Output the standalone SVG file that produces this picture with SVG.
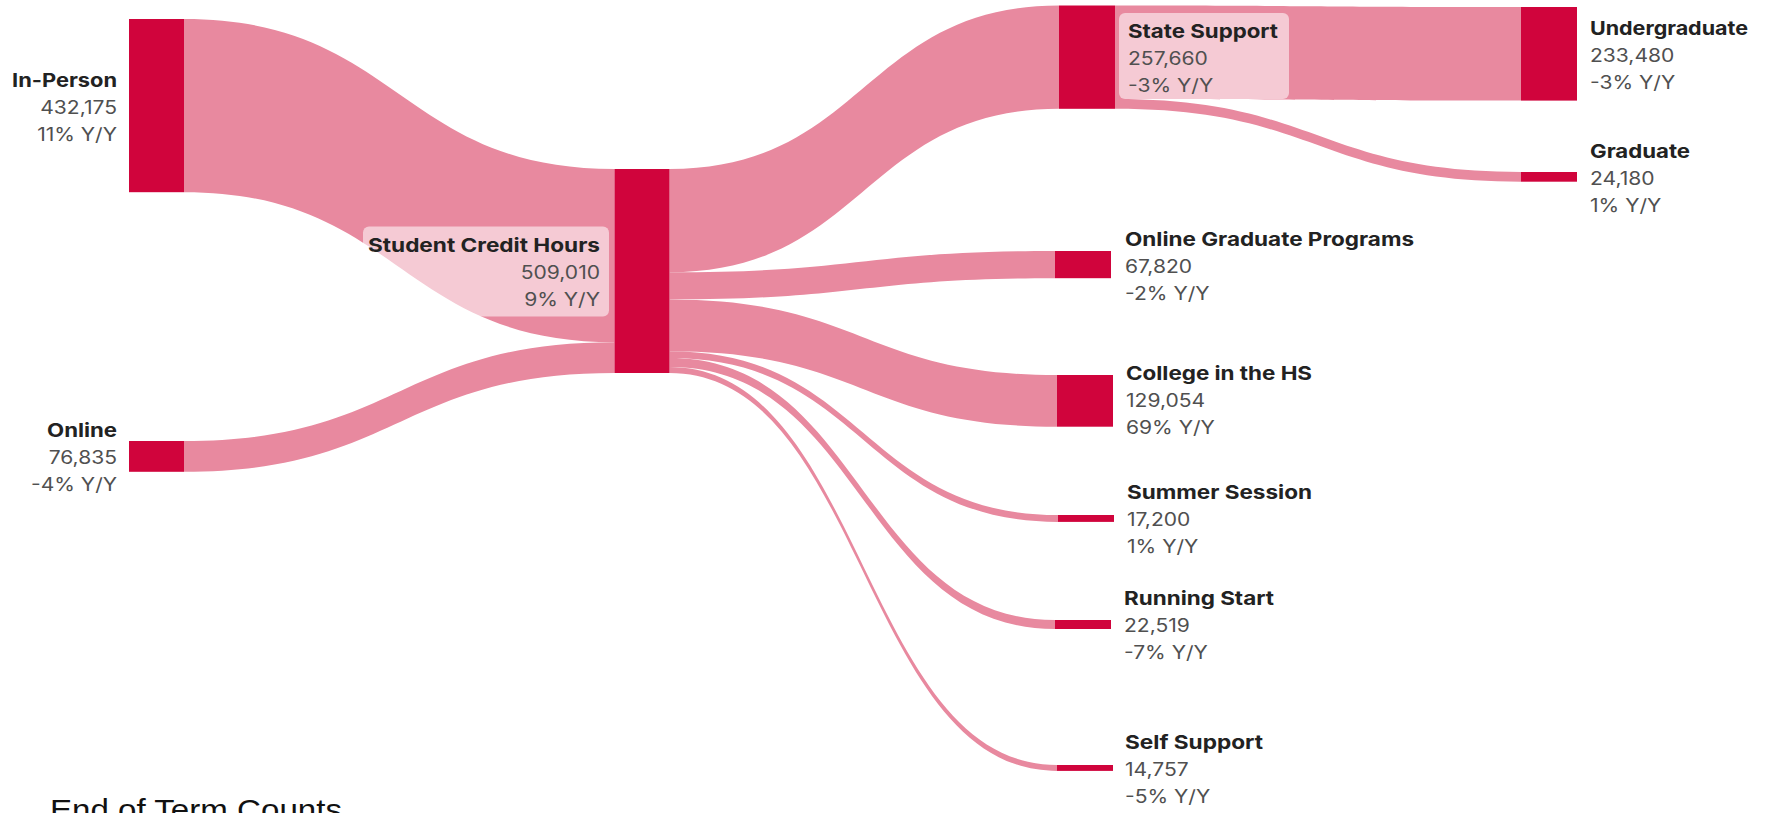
<svg xmlns="http://www.w3.org/2000/svg" width="1773" height="813" viewBox="0 0 1773 813">
<style>
.node{fill:#D0043C}
.link{fill:#E8899F}
.t{font-family:Inter,"Noto Sans",sans-serif;font-size:19px;font-weight:700;fill:#222}
.v{font-family:Inter,"Noto Sans",sans-serif;font-size:18px;font-weight:400;fill:#505050}
.box{fill:#fff;fill-opacity:0.55}
.cap{font-family:"Liberation Sans",Arial,sans-serif;font-size:30px;fill:#111}
</style>
<rect width="1773" height="813" fill="#fff"/>
<g id="links">
<path class="link" d="M184,19 C399.25,19 399.25,169 614.5,169 L614.5,342.2 C399.25,342.2 399.25,192.2 184,192.2 Z"/>
<path class="link" d="M184,441 C399.25,441 399.25,342.2 614.5,342.2 L614.5,373 C399.25,373 399.25,471.8 184,471.8 Z"/>
<path class="link" d="M669.5,169 C864.25,169 864.25,5.5 1059,5.5 L1059,108.8 C864.25,108.8 864.25,272.3 669.5,272.3 Z"/>
<path class="link" d="M669.5,272.3 C862.25,272.3 862.25,251 1055,251 L1055,278.2 C862.25,278.2 862.25,299.5 669.5,299.5 Z"/>
<path class="link" d="M669.5,299.5 C863.25,299.5 863.25,375 1057,375 L1057,426.7 C863.25,426.7 863.25,351.2 669.5,351.2 Z"/>
<path class="link" d="M669.5,351.2 C863.75,351.2 863.75,515 1058,515 L1058,521.9 C863.75,521.9 863.75,358.1 669.5,358.1 Z"/>
<path class="link" d="M669.5,358.1 C862.25,358.1 862.25,620 1055,620 L1055,629 C862.25,629 862.25,367.1 669.5,367.1 Z"/>
<path class="link" d="M669.5,367.1 C863.25,367.1 863.25,765 1057,765 L1057,770.9 C863.25,770.9 863.25,373 669.5,373 Z"/>
<path class="link" d="M1115,5.5 C1318,5.5 1318,7 1521,7 L1521,100.6 C1318,100.6 1318,99.1 1115,99.1 Z"/>
<path class="link" d="M1115,99.1 C1318,99.1 1318,172 1521,172 L1521,181.7 C1318,181.7 1318,108.8 1115,108.8 Z"/>
</g>
<g id="node-in-person">
<rect class="node" x="129" y="19" width="55" height="173.2"/>
<g transform="translate(117,0) scale(1.17,1)" text-anchor="end">
<text class="t" x="0" y="86.6" textLength="89.7" lengthAdjust="spacingAndGlyphs">In-Person</text>
<text class="v" x="0" y="113.6">432,175</text>
<text class="v" x="0" y="140.6">11% Y/Y</text>
</g>
</g>
<g id="node-online">
<rect class="node" x="129" y="441" width="55" height="30.8"/>
<g transform="translate(117,0) scale(1.17,1)" text-anchor="end">
<text class="t" x="0" y="437.4" textLength="59.8" lengthAdjust="spacingAndGlyphs">Online</text>
<text class="v" x="0" y="464.4">76,835</text>
<text class="v" x="0" y="491.4">-4% Y/Y</text>
</g>
</g>
<g id="node-student-credit-hours">
<rect class="node" x="614.5" y="169" width="55" height="204"/>
<rect class="box" x="363" y="226.5" width="246" height="90" rx="6"/>
<g transform="translate(600,0) scale(1.17,1)" text-anchor="end">
<text class="t" x="0" y="252" textLength="198.3" lengthAdjust="spacingAndGlyphs">Student Credit Hours</text>
<text class="v" x="0" y="279">509,010</text>
<text class="v" x="0" y="306">9% Y/Y</text>
</g>
</g>
<g id="node-state-support">
<rect class="node" x="1059" y="5.5" width="56" height="103.3"/>
<rect class="box" x="1119" y="13" width="170" height="86" rx="6"/>
<g transform="translate(1128,0) scale(1.17,1)">
<text class="t" x="0" y="38" textLength="128.2" lengthAdjust="spacingAndGlyphs">State Support</text>
<text class="v" x="0" y="65">257,660</text>
<text class="v" x="0" y="92">-3% Y/Y</text>
</g>
</g>
<g id="node-online-graduate-programs">
<rect class="node" x="1055" y="251" width="56" height="27.2"/>
<g transform="translate(1125,0) scale(1.17,1)">
<text class="t" x="0" y="245.6" textLength="247" lengthAdjust="spacingAndGlyphs">Online Graduate Programs</text>
<text class="v" x="0" y="272.6">67,820</text>
<text class="v" x="0" y="299.6">-2% Y/Y</text>
</g>
</g>
<g id="node-college-in-the-hs">
<rect class="node" x="1057" y="375" width="56" height="51.7"/>
<g transform="translate(1126,0) scale(1.17,1)">
<text class="t" x="0" y="380" textLength="159" lengthAdjust="spacingAndGlyphs">College in the HS</text>
<text class="v" x="0" y="407">129,054</text>
<text class="v" x="0" y="434">69% Y/Y</text>
</g>
</g>
<g id="node-summer-session">
<rect class="node" x="1058" y="515" width="56" height="6.9"/>
<g transform="translate(1127,0) scale(1.17,1)">
<text class="t" x="0" y="499.5" textLength="158.1" lengthAdjust="spacingAndGlyphs">Summer Session</text>
<text class="v" x="0" y="526.5">17,200</text>
<text class="v" x="0" y="553.5">1% Y/Y</text>
</g>
</g>
<g id="node-running-start">
<rect class="node" x="1055" y="620" width="56" height="9"/>
<g transform="translate(1124,0) scale(1.17,1)">
<text class="t" x="0" y="605.5" textLength="128.2" lengthAdjust="spacingAndGlyphs">Running Start</text>
<text class="v" x="0" y="632.5">22,519</text>
<text class="v" x="0" y="659.5">-7% Y/Y</text>
</g>
</g>
<g id="node-self-support">
<rect class="node" x="1057" y="765" width="56" height="5.9"/>
<g transform="translate(1125,0) scale(1.17,1)">
<text class="t" x="0" y="749" textLength="117.9" lengthAdjust="spacingAndGlyphs">Self Support</text>
<text class="v" x="0" y="776">14,757</text>
<text class="v" x="0" y="803">-5% Y/Y</text>
</g>
</g>
<g id="node-undergraduate">
<rect class="node" x="1521" y="7" width="56" height="93.6"/>
<g transform="translate(1590,0) scale(1.17,1)">
<text class="t" x="0" y="34.8" textLength="135" lengthAdjust="spacingAndGlyphs">Undergraduate</text>
<text class="v" x="0" y="61.8">233,480</text>
<text class="v" x="0" y="88.8">-3% Y/Y</text>
</g>
</g>
<g id="node-graduate">
<rect class="node" x="1521" y="172" width="56" height="9.7"/>
<g transform="translate(1590,0) scale(1.17,1)">
<text class="t" x="0" y="157.9" textLength="85.5" lengthAdjust="spacingAndGlyphs">Graduate</text>
<text class="v" x="0" y="184.9">24,180</text>
<text class="v" x="0" y="211.9">1% Y/Y</text>
</g>
</g>
<text id="caption" class="cap" x="50" y="820" textLength="292" lengthAdjust="spacingAndGlyphs">End of Term Counts</text>
</svg>
